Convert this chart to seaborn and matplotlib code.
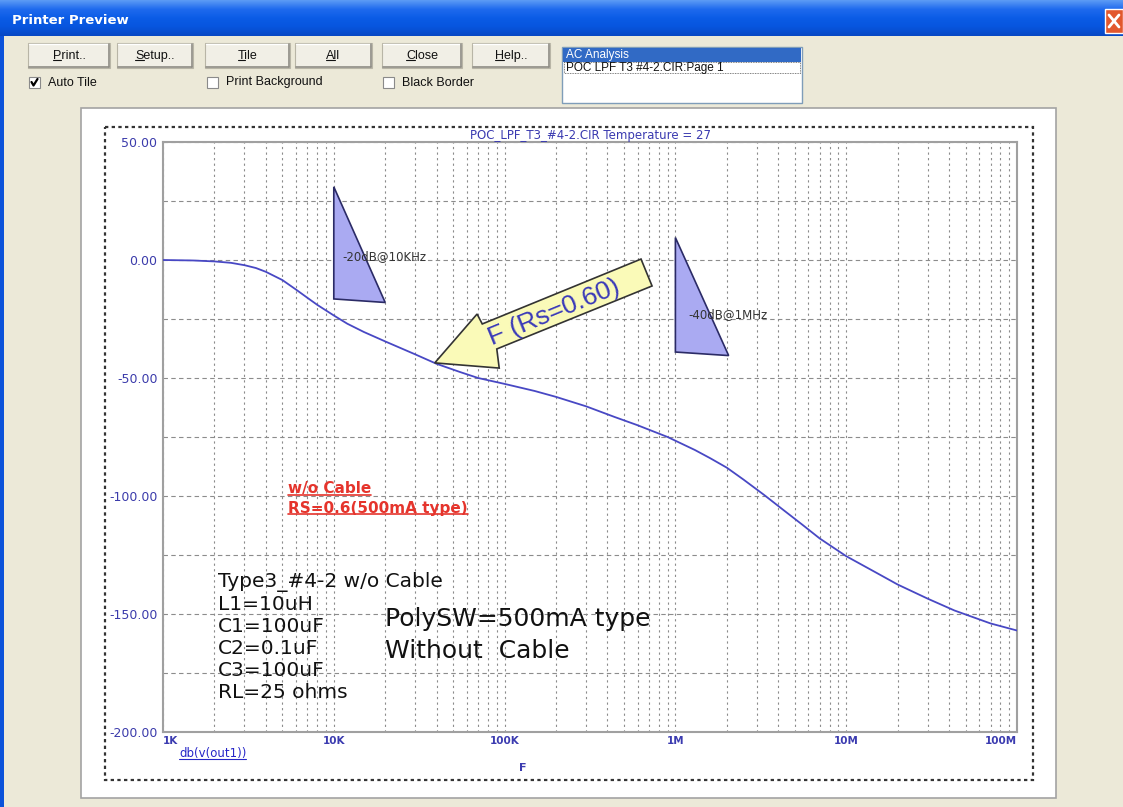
# Printer Preview - réponse AC du filtre POC LPF (db(v(out1)))
import numpy as np
import seaborn as sns
import matplotlib.pyplot as plt
import matplotlib.transforms as mtransforms
from matplotlib.patches import Rectangle, Polygon
from matplotlib.lines import Line2D
from matplotlib.colors import LinearSegmentedColormap
from matplotlib.ticker import FixedLocator, LogLocator, MultipleLocator, NullFormatter

# Courbe (fréquence en Hz, gain en dB)
freq_hz = [1e3, 1.5e3, 2e3, 2.5e3, 3e3, 3.5e3, 4e3, 5e3, 6e3, 7e3, 8e3, 1e4, 1.2e4,
           1.5e4, 2e4, 3e4, 4e4, 5.5e4, 7e4, 1e5, 1.5e5, 2e5, 3e5, 4.4e5, 6e5,
           9e5, 1.3e6, 1.6e6, 2e6, 2.5e6, 3.3e6, 4.3e6, 5.5e6, 7e6, 1e7, 1.5e7,
           2e7, 3e7, 4.3e7, 7e7, 1e8]
gain_db = [0, -0.2, -0.6, -1.2, -2.2, -3.4, -5, -8.5, -12.5, -16, -19, -23.5, -27,
           -30.5, -34.5, -40, -44, -47.5, -50, -52.5, -55.5, -58, -62, -66.5, -70,
           -75, -80.5, -84, -88, -93, -99.5, -106, -112, -118, -125.5, -132.5,
           -137.5, -143.5, -148.5, -154, -157]

x_ticks = [1e3, 1e4, 1e5, 1e6, 1e7, 1e8]
x_labels = ['1K', '10K', '100K', '1M', '10M', '100M']
x_align = ['left', 'center', 'center', 'center', 'center', 'right']
y_ticks = [50, 0, -50, -100, -150, -200]

# Annotations (triangles de pente et flèche)
tri1_f = [1e4, 1e4, 2e4]
tri1_db = [31, -16.5, -18]
tri2_f = [1e6, 1e6, 2.05e6]
tri2_db = [9.5, -39, -40.5]
arrow_f = [39e3, 69e3, 74e3, 629e3, 730e3, 90e3, 93e3]
arrow_db = [-43.6, -22.9, -27.1, 0.4, -11, -37.7, -45.8]

sns.set_theme(style="white")
plt.rcParams['font.family'] = ['DejaVu Sans']

W, H = 1123, 807
fig = plt.figure(figsize=(W / 100, H / 100), dpi=100)
fig.patch.set_facecolor('#ECE9D8')
px = mtransforms.Affine2D().scale(1 / W, -1 / H).translate(0, 1) + fig.transFigure


def rect(x0, y0, x1, y1, fc, ec='none', lw=1.0, z=-5, ls='-'):
    fig.add_artist(Rectangle((x0, y0), x1 - x0, y1 - y0, transform=px, facecolor=fc,
                             edgecolor=ec, lw=lw, ls=ls, zorder=z))


def seg(xs, ys, color, lw=1.0, ls='-', z=-4):
    fig.add_artist(Line2D(xs, ys, transform=px, color=color, lw=lw, ls=ls, zorder=z))


def label(x, y, s, **kw):
    kw.setdefault('fontsize', 9)
    kw.setdefault('family', ['Liberation Sans', 'DejaVu Sans'])
    return fig.text(x, y, s, transform=px, **kw)


# Barre de titre
tb = fig.add_axes([0, 1 - 36 / H, 1, 36 / H])
cmap_tb = LinearSegmentedColormap.from_list('tb', ['#5C9BF5', '#1F6AEE', '#0B5CE6', '#0755DE', '#0848C4'])
tb.imshow(np.linspace(0, 1, 64).reshape(-1, 1), aspect='auto', cmap=cmap_tb, extent=[0, 1, 0, 1])
tb.axis('off')
tb.set_zorder(-10)
label(12, 21, 'Printer Preview', color='white', fontsize=9.5, weight='bold', va='center',
      family=['DejaVu Sans'])
rect(1105, 9, 1123, 33, '#E2582E', ec='white', lw=1, z=2)
seg([1109, 1119], [15, 27], 'white', lw=2, z=3)
seg([1109, 1119], [27, 15], 'white', lw=2, z=3)
rect(0, 36, 4, H, '#0B52DA', z=-6)

# Boutons
buttons = [('Print..', 28, 110), ('Setup..', 117, 193), ('Tile', 205, 290),
           ('All', 295, 372), ('Close', 382, 462), ('Help..', 472, 550)]
btn_texts = []
for txt, x0, x1 in buttons:
    rect(x0, 43, x1, 68, '#F1EFE6', ec='#B8B5A6', lw=0.8)
    seg([x0 + 1, x1 - 1], [44, 44], 'white', lw=1)
    seg([x0 + 1, x1 - 1], [67, 67], '#8E8C84', lw=1.2)
    seg([x1 - 1, x1 - 1], [44, 67], '#8E8C84', lw=1.2)
    btn_texts.append(label((x0 + x1) / 2, 56, txt, ha='center', va='center', color='#111111'))

# Cases à cocher
for cx, txt, checked in [(29, 'Auto Tile', True), (207, 'Print Background', False),
                         (383, 'Black Border', False)]:
    rect(cx, 77, cx + 11, 88, 'white', ec='#8A8A8A', lw=0.8)
    label(cx + 19, 82.5, txt, va='center', color='#111111')
    if checked:
        seg([cx + 2.5, cx + 4.5, cx + 8.5], [82, 85.5, 79], 'black', lw=1.6, z=3)

# Liste
rect(562, 47, 802, 103, 'white', ec='#7F9DB9', lw=1)
rect(563, 48, 801, 62, '#316AC5', z=-4)
label(566, 55, 'AC Analysis', va='center', color='white', fontsize=8.5)
rect(564, 62, 800, 73, 'none', ec='#555555', lw=0.6, ls=(0, (1, 1)), z=-3)
label(566, 67.5, 'POC LPF T3 #4-2.CIR:Page 1', va='center', color='#111111', fontsize=8.5)

# Page blanche et cadre pointillé
rect(81, 108, 1056, 798, 'white', ec='#A3A3A3', lw=1.2, z=-6)
rect(105, 127, 1033, 780, 'none', ec='#333333', lw=1.6, ls=(0, (1.5, 1.5)), z=-5)

# Graphique
ax = fig.add_axes([163 / W, 1 - 732 / H, 854 / W, 590 / H])
ax.set_facecolor('white')
sns.lineplot(x=freq_hz, y=gain_db, ax=ax, color='#4848C4', lw=1.3, zorder=3)
ax.set_xscale('log')
ax.set_xlim(1e3, 1e8)
ax.set_ylim(-200, 50)

ax.xaxis.set_major_locator(FixedLocator(x_ticks))
ax.xaxis.set_minor_locator(LogLocator(base=10, subs=range(2, 10)))
ax.xaxis.set_minor_formatter(NullFormatter())
ax.set_xticklabels(x_labels)
for lbl, ha in zip(ax.get_xticklabels(), x_align):
    lbl.set_ha(ha)
ax.yaxis.set_major_locator(FixedLocator(y_ticks))
ax.yaxis.set_minor_locator(MultipleLocator(25))
ax.set_yticklabels([f"{v:.2f}" for v in y_ticks])

ax.grid(which='both', axis='x', color='#8C8C8C', ls=(0, (2, 3)), lw=0.8)
ax.grid(which='both', axis='y', color='#8C8C8C', ls=(0, (4, 3)), lw=0.8)
ax.tick_params(which='both', length=0)
ax.tick_params(axis='x', pad=3, labelsize=7.5, labelcolor='#3B3BB0')
ax.tick_params(axis='y', pad=4, labelsize=9, labelcolor='#3B3BAB')
for lbl in ax.get_xticklabels():
    lbl.set_fontweight('bold')
for sp in ax.spines.values():
    sp.set_color('#A0A0A0')
    sp.set_linewidth(1.5)
ax.set_xlabel('')
ax.set_ylabel('')
ax.set_title('POC_LPF_T3_#4-2.CIR Temperature = 27', color='#3A3AB0', fontsize=8.5, pad=2)

ax.fill(tri1_f, tri1_db, facecolor='#AAAAF2', edgecolor='#2B2B66', lw=1.2, zorder=4)
ax.fill(tri2_f, tri2_db, facecolor='#AAAAF2', edgecolor='#2B2B66', lw=1.2, zorder=4)
ax.text(11.3e3, 1.3, '-20dB@10KHz', fontsize=8.5, color='#333333', va='center', zorder=5)
ax.text(1.19e6, -23.3, '-40dB@1MHz', fontsize=8.5, color='#333333', va='center', zorder=5)

ax.add_patch(Polygon(np.column_stack([arrow_f, arrow_db]), closed=True, facecolor='#FAFAB8',
                     edgecolor='#333333', lw=1.2, zorder=5))
ax.text(194e3, -22, 'F (Rs=0.60)', rotation=22.3, rotation_mode='anchor', ha='center',
        va='center', fontsize=19, color='#3A3AB8', family=['Liberation Sans'], zorder=6)

# Textes sur le graphique
red1 = label(288, 489, 'w/o Cable', va='center', color='#E5342C', fontsize=11, weight='bold',
             family=['DejaVu Sans'])
red2 = label(288, 508, 'RS=0.6(500mA type)', va='center', color='#E5342C', fontsize=11,
             weight='bold', family=['DejaVu Sans'])
label(218, 582, 'Type3_#4-2 w/o Cable', va='center', color='#111111', fontsize=14.5,
      family=['DejaVu Sans'])
label(218, 648, 'L1=10uH\nC1=100uF\nC2=0.1uF\nC3=100uF\nRL=25 ohms',
      va='center', color='#111111', fontsize=14.5, linespacing=1.2, family=['DejaVu Sans'])
label(385, 635, 'PolySW=500mA type\nWithout  Cable', va='center', color='#111111',
      fontsize=18, linespacing=1.45, family=['DejaVu Sans'])
dbv = label(179, 754, 'db(v(out1))', va='center', color='#2626C8', fontsize=8.5,
            family=['DejaVu Sans'])
label(523, 768, 'F', va='center', ha='center', color='#3B3BB0', fontsize=8, weight='bold',
      family=['DejaVu Sans'])

# Soulignements
fig.canvas.draw()
renderer = fig.canvas.get_renderer()
ident = mtransforms.IdentityTransform()


def underline(t, first_only=False, dy=1.5, lw=1.0):
    bb = t.get_window_extent(renderer)
    x1 = bb.x1
    if first_only:
        tmp = fig.text(0, 0, t.get_text()[0], fontproperties=t.get_fontproperties())
        x1 = bb.x0 + tmp.get_window_extent(renderer).width
        tmp.remove()
    fig.add_artist(Line2D([bb.x0, x1], [bb.y0 + dy] * 2, transform=ident,
                          color=t.get_color(), lw=lw, zorder=4))


underline(red1, lw=1.2)
underline(red2, lw=1.2)
underline(dbv, lw=0.8)
for t in btn_texts:
    underline(t, first_only=True, dy=2, lw=0.8)

fig.savefig('out.png', dpi=100, facecolor=fig.get_facecolor())
